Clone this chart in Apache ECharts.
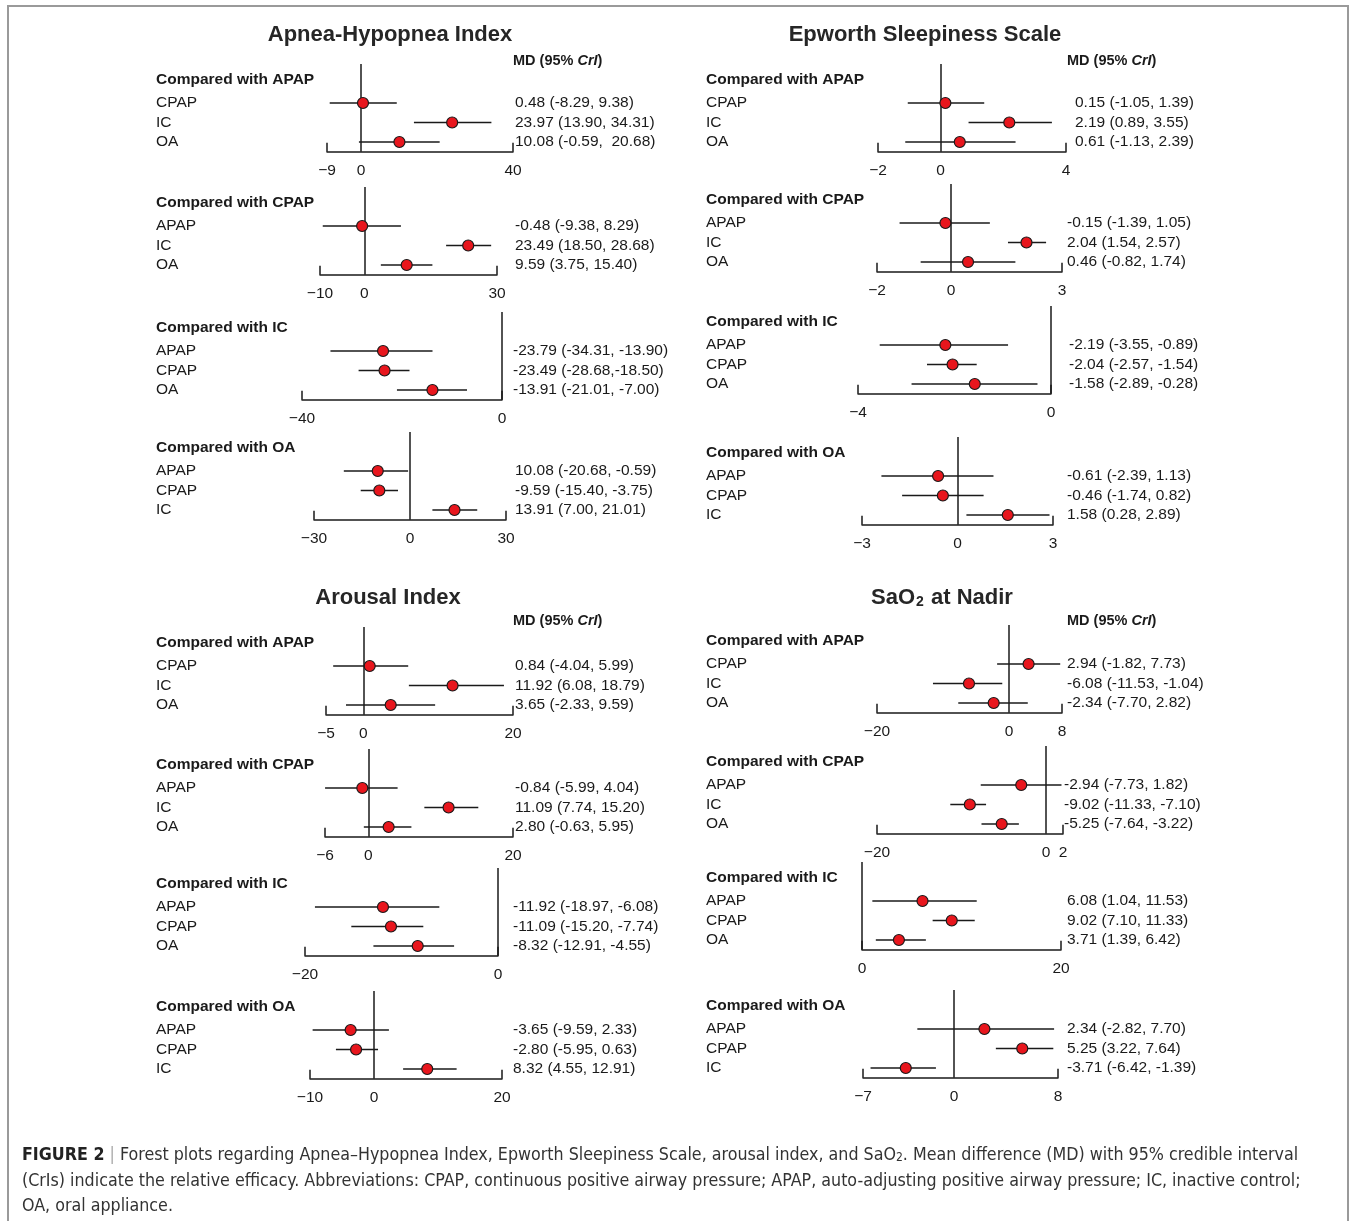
<!DOCTYPE html>
<html>
<head>
<meta charset="utf-8">
<title>Forest plots</title>
<script src="https://cdn.jsdelivr.net/npm/echarts@6/dist/echarts.min.js"></script>
<style>
  html, body { margin: 0; padding: 0; background: #fff; }
  #chart { width: 1356px; height: 1221px; }
</style>
</head>
<body>
<div id="chart"></div>
<script>
//------------------- data --------------
var outcomeTitles = ['Apnea-Hypopnea Index', 'Epworth Sleepiness Scale', 'Arousal Index', 'SaO2 at Nadir'];
var refNames = ['APAP', 'CPAP', 'IC', 'OA'];
var rowNames = [['CPAP', 'IC', 'OA'], ['APAP', 'IC', 'OA'], ['APAP', 'CPAP', 'OA'], ['APAP', 'CPAP', 'IC']];

// Apnea-Hypopnea Index
var ahiMd = [[0.48, 23.97, 10.08], [-0.48, 23.49, 9.59], [-23.79, -23.49, -13.91], [-10.08, -9.59, 13.91]];
var ahiLo = [[-8.29, 13.90, -0.59], [-9.38, 18.50, 3.75], [-34.31, -28.68, -21.01], [-20.68, -15.40, 7.00]];
var ahiHi = [[9.38, 34.31, 20.68], [8.29, 28.68, 15.40], [-13.90, -18.50, -7.00], [-0.59, -3.75, 21.01]];
var ahiText = [
  ['0.48 (-8.29, 9.38)', '23.97 (13.90, 34.31)', '10.08 (-0.59,  20.68)'],
  ['-0.48 (-9.38, 8.29)', '23.49 (18.50, 28.68)', '9.59 (3.75, 15.40)'],
  ['-23.79 (-34.31, -13.90)', '-23.49 (-28.68,-18.50)', '-13.91 (-21.01, -7.00)'],
  ['10.08 (-20.68, -0.59)', '-9.59 (-15.40, -3.75)', '13.91 (7.00, 21.01)']
];
var ahiTicks = [[-9, 0, 40], [-10, 0, 30], [-40, 0], [-30, 0, 30]];

// Epworth Sleepiness Scale
var essMd = [[0.15, 2.19, 0.61], [-0.15, 2.04, 0.46], [-2.19, -2.04, -1.58], [-0.61, -0.46, 1.58]];
var essLo = [[-1.05, 0.89, -1.13], [-1.39, 1.54, -0.82], [-3.55, -2.57, -2.89], [-2.39, -1.74, 0.28]];
var essHi = [[1.39, 3.55, 2.39], [1.05, 2.57, 1.74], [-0.89, -1.54, -0.28], [1.13, 0.82, 2.89]];
var essText = [
  ['0.15 (-1.05, 1.39)', '2.19 (0.89, 3.55)', '0.61 (-1.13, 2.39)'],
  ['-0.15 (-1.39, 1.05)', '2.04 (1.54, 2.57)', '0.46 (-0.82, 1.74)'],
  ['-2.19 (-3.55, -0.89)', '-2.04 (-2.57, -1.54)', '-1.58 (-2.89, -0.28)'],
  ['-0.61 (-2.39, 1.13)', '-0.46 (-1.74, 0.82)', '1.58 (0.28, 2.89)']
];
var essTicks = [[-2, 0, 4], [-2, 0, 3], [-4, 0], [-3, 0, 3]];

// Arousal Index
var aiMd = [[0.84, 11.92, 3.65], [-0.84, 11.09, 2.80], [-11.92, -11.09, -8.32], [-3.65, -2.80, 8.32]];
var aiLo = [[-4.04, 6.08, -2.33], [-5.99, 7.74, -0.63], [-18.97, -15.20, -12.91], [-9.59, -5.95, 4.55]];
var aiHi = [[5.99, 18.79, 9.59], [4.04, 15.20, 5.95], [-6.08, -7.74, -4.55], [2.33, 0.63, 12.91]];
var aiText = [
  ['0.84 (-4.04, 5.99)', '11.92 (6.08, 18.79)', '3.65 (-2.33, 9.59)'],
  ['-0.84 (-5.99, 4.04)', '11.09 (7.74, 15.20)', '2.80 (-0.63, 5.95)'],
  ['-11.92 (-18.97, -6.08)', '-11.09 (-15.20, -7.74)', '-8.32 (-12.91, -4.55)'],
  ['-3.65 (-9.59, 2.33)', '-2.80 (-5.95, 0.63)', '8.32 (4.55, 12.91)']
];
var aiTicks = [[-5, 0, 20], [-6, 0, 20], [-20, 0], [-10, 0, 20]];

// SaO2 at nadir
var saoMd = [[2.94, -6.08, -2.34], [-2.94, -9.02, -5.25], [6.08, 9.02, 3.71], [2.34, 5.25, -3.71]];
var saoLo = [[-1.82, -11.53, -7.70], [-7.73, -11.33, -7.64], [1.04, 7.10, 1.39], [-2.82, 3.22, -6.42]];
var saoHi = [[7.73, -1.04, 2.82], [1.82, -7.10, -3.22], [11.53, 11.33, 6.42], [7.70, 7.64, -1.39]];
var saoText = [
  ['2.94 (-1.82, 7.73)', '-6.08 (-11.53, -1.04)', '-2.34 (-7.70, 2.82)'],
  ['-2.94 (-7.73, 1.82)', '-9.02 (-11.33, -7.10)', '-5.25 (-7.64, -3.22)'],
  ['6.08 (1.04, 11.53)', '9.02 (7.10, 11.33)', '3.71 (1.39, 6.42)'],
  ['2.34 (-2.82, 7.70)', '5.25 (3.22, 7.64)', '-3.71 (-6.42, -1.39)']
];
var saoTicks = [[-20, 0, 8], [-20, 0, 2], [0, 20], [-7, 0, 8]];

//------------------- layout --------------
var FONT = '"Liberation Sans", Arial, Helvetica, sans-serif';
var INK = '#1a1a1a';
var ROW = 19.5;

// per panel: first row y, axis left px, axis right px, value text x
var layout = [
  // AHI
  [[103, 327, 513, 515], [226, 320, 497, 515], [351, 302, 502, 513], [471, 314, 506, 515]],
  // ESS
  [[103, 878, 1066, 1075], [223, 877, 1062, 1067], [345, 858, 1051, 1069], [476, 862, 1053, 1067]],
  // Arousal
  [[666, 326, 513, 515], [788, 325, 513, 515], [907, 305, 498, 513], [1030, 310, 502, 513]],
  // SaO2
  [[664, 877, 1062, 1067], [785, 877, 1063, 1064], [901, 862, 1061, 1067], [1029, 863, 1058, 1067]]
];
var labelX = [156, 706, 156, 706];
var titlePos = [[390, 35], [925, 35], [388, 598], [942, 598]];
var mdPos = [[513, 60], [1067, 60], [513, 620], [1067, 620]];

var outcomes = [
  { md: ahiMd, lo: ahiLo, hi: ahiHi, text: ahiText, ticks: ahiTicks },
  { md: essMd, lo: essLo, hi: essHi, text: essText, ticks: essTicks },
  { md: aiMd, lo: aiLo, hi: aiHi, text: aiText, ticks: aiTicks },
  { md: saoMd, lo: saoLo, hi: saoHi, text: saoText, ticks: saoTicks }
];

function minusSign(v) { return String(v).replace('-', '\u2212'); }

function renderBar(params, api) {
  var y = api.value(3);
  var a = api.coord([api.value(0), y]);
  var b = api.coord([api.value(1), y]);
  return {
    type: 'line',
    shape: { x1: a[0], y1: a[1], x2: b[0], y2: b[1] },
    style: { stroke: INK, lineWidth: 1.6 }
  };
}

var grids = [], xAxes = [], yAxes = [], series = [], graphics = [];

graphics.push({
  type: 'rect', shape: { x: 8, y: 6, width: 1340, height: 1240 },
  style: { fill: 'none', stroke: '#9a9a9a', lineWidth: 2 }, silent: true
});

outcomes.forEach(function (o, oi) {
  // outcome title
  var tp = titlePos[oi];
  if (oi === 3) {
    graphics.push({ type: 'text', x: tp[0], y: tp[1], style: {
      text: '{t|SaO}{s|2}{t| at Nadir}', align: 'center', verticalAlign: 'middle',
      rich: { t: { font: 'bold 22px ' + FONT, fill: '#262626' },
              s: { font: 'bold 14px ' + FONT, fill: '#262626', verticalAlign: 'bottom', padding: [8, 1, 0, 1] } }
    } });
  } else {
    graphics.push({ type: 'text', x: tp[0], y: tp[1], style: {
      text: outcomeTitles[oi], font: 'bold 22px ' + FONT, fill: '#262626', align: 'center', verticalAlign: 'middle'
    } });
  }
  var mp = mdPos[oi];
  graphics.push({ type: 'text', x: mp[0], y: mp[1] + 1, style: {
    text: '{b|MD (95% }{i|CrI}{b|)}', verticalAlign: 'middle',
    rich: { b: { font: 'bold 14.5px ' + FONT, fill: INK }, i: { font: 'italic bold 14.5px ' + FONT, fill: INK } }
  } });

  for (var k = 0; k < 4; k++) {
    var lay = layout[oi][k];
    var row1 = lay[0], L = lay[1], R = lay[2], tx = lay[3];
    var gi = grids.length;
    var ticks = o.ticks[k];
    var xmin = ticks[0], xmax = ticks[ticks.length - 1];
    var names = rowNames[k];
    var texts = o.text[k];

    grids.push({ left: L, top: row1 - 2 * ROW, width: R - L, height: 4.5 * ROW });

    graphics.push({ type: 'text', x: labelX[oi], y: row1 - 23, style: {
      text: 'Compared with ' + refNames[k], font: 'bold 15.5px ' + FONT, fill: INK, verticalAlign: 'middle'
    } });

    xAxes.push({
      gridIndex: gi, type: 'value', min: xmin, max: xmax,
      axisLine: { show: true, onZero: false, lineStyle: { color: INK, width: 1.5 } },
      axisTick: { show: true, inside: true, length: 9, customValues: [xmin, xmax], lineStyle: { color: INK, width: 1.5 } },
      axisLabel: { customValues: ticks, formatter: minusSign, margin: 11, fontSize: 15.5, fontFamily: FONT, color: INK },
      splitLine: { show: false }
    });

    (function (names, texts) {
      yAxes.push({
        gridIndex: gi, type: 'value', min: 0.5, max: 5, position: 'left',
        axisLine: { show: false }, axisTick: { show: false }, splitLine: { show: false },
        axisLabel: { customValues: [3, 2, 1], align: 'left', margin: L - labelX[oi],
          formatter: function (v) { return names[3 - v]; }, fontSize: 15.5, fontFamily: FONT, color: INK }
      });
      yAxes.push({
        gridIndex: gi, type: 'value', min: 0.5, max: 5, position: 'right',
        axisLine: { show: false }, axisTick: { show: false }, splitLine: { show: false },
        axisLabel: { customValues: [3, 2, 1], align: 'left', margin: tx - R,
          formatter: function (v) { return texts[3 - v]; }, fontSize: 15.5, fontFamily: FONT, color: INK }
      });
    })(names, texts);

    var barData = [], dotData = [];
    for (var j = 0; j < 3; j++) {
      barData.push([o.lo[k][j], o.hi[k][j], o.md[k][j], 3 - j]);
      dotData.push([o.md[k][j], 3 - j]);
    }
    series.push({
      type: 'custom', xAxisIndex: gi, yAxisIndex: 2 * gi, renderItem: renderBar,
      encode: { x: [0, 1, 2], y: 3 }, data: barData, z: 2, silent: true, clip: false
    });
    series.push({
      type: 'scatter', xAxisIndex: gi, yAxisIndex: 2 * gi, data: dotData, symbol: 'circle', symbolSize: 11,
      itemStyle: { color: '#e8161d', borderColor: INK, borderWidth: 1.2, opacity: 1 }, z: 3, silent: true,
      markLine: { silent: true, symbol: 'none', z: 1, label: { show: false },
        lineStyle: { color: INK, width: 1.5, type: 'solid' }, data: [{ xAxis: 0 }] }
    });
  }
});

// caption
var CAP = '"Liberation Sans Narrow", "DejaVu Sans Condensed", "Liberation Sans", sans-serif';
var capRich = {
  f: { font: 'bold 17.7px ' + CAP, fill: '#222' },
  sep: { font: '17.7px ' + CAP, fill: '#aaa' },
  t: { font: '17.7px ' + CAP, fill: '#333' },
  s: { font: '12px ' + CAP, fill: '#333', verticalAlign: 'bottom', padding: [6, 0, 0, 0] }
};
var captionLines = [
  '{f|FIGURE 2}{sep| | }{t|Forest plots regarding Apnea\u2013Hypopnea Index, Epworth Sleepiness Scale, arousal index, and SaO}{s|2}{t|. Mean difference (MD) with 95% credible interval}',
  '{t|(CrIs) indicate the relative efficacy. Abbreviations: CPAP, continuous positive airway pressure; APAP, auto-adjusting positive airway pressure; IC, inactive control;}',
  '{t|OA, oral appliance.}'
];
var captionY = [1155, 1181, 1206];
captionLines.forEach(function (line, i) {
  graphics.push({ type: 'text', x: 22, y: captionY[i], style: { text: line, rich: capRich, verticalAlign: 'middle' } });
});

var chart = echarts.init(document.getElementById('chart'));
chart.setOption({
  backgroundColor: '#fff',
  animation: false,
  grid: grids,
  xAxis: xAxes,
  yAxis: yAxes,
  series: series,
  graphic: graphics
});
</script>
</body>
</html>
